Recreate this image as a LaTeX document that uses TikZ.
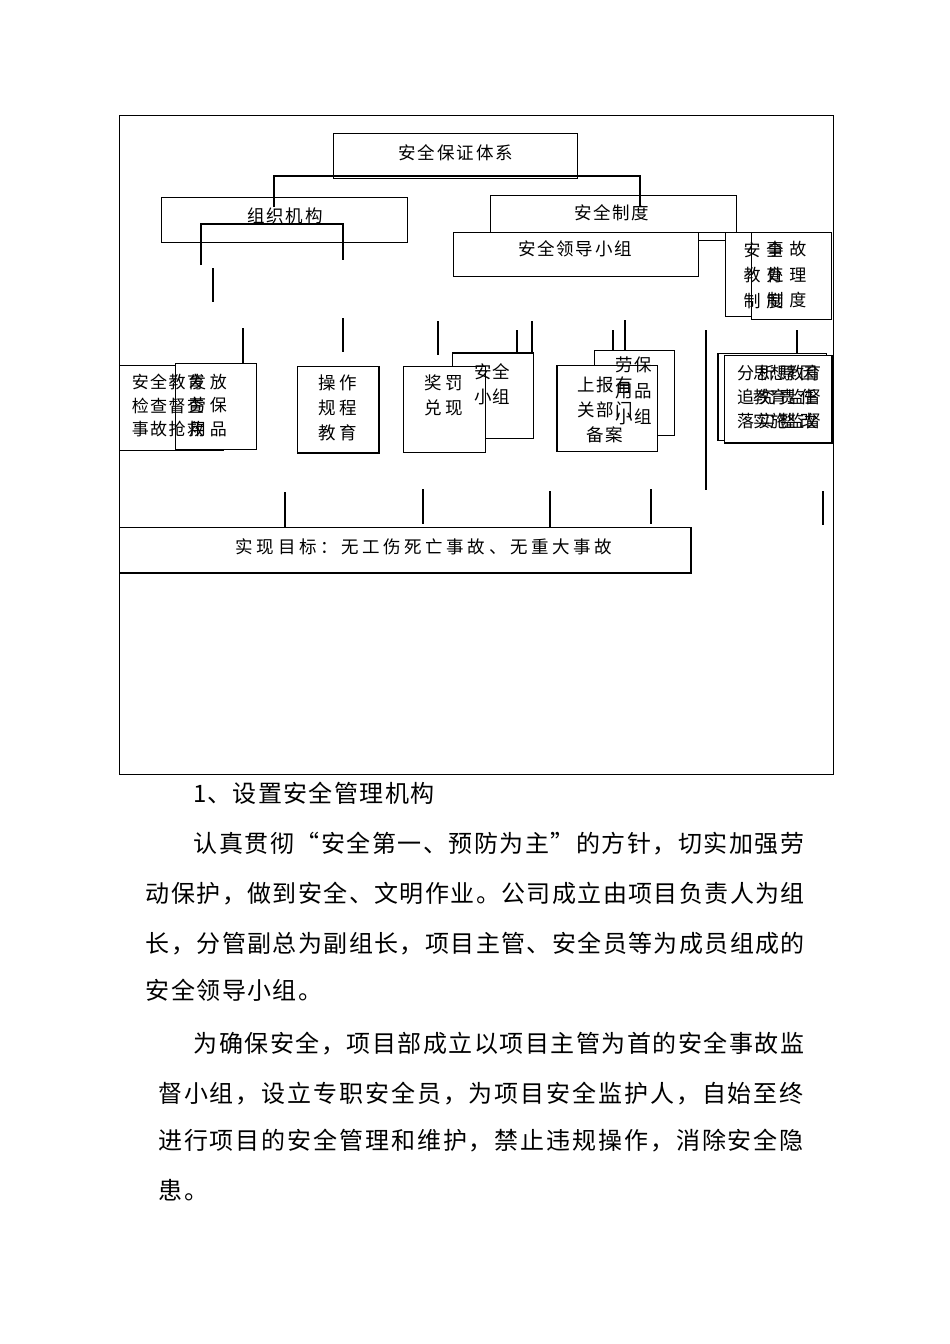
\documentclass[tikz,border=0pt]{standalone}
\usepackage{fontspec}
\newfontfamily\cjk{Noto Sans CJK SC}
\makeatletter
\newcommand\spc[2]{\@tfor\ch:=#2\do{\makebox[#1]{\ch}}}
\makeatother
\tikzset{
  box/.style={draw, line width=1pt, fill=white, inner sep=0pt, anchor=north west},
  lbl/.style={font=\cjk\fontsize{17.5}{25}\selectfont, align=center, inner sep=0pt},
  body/.style={font=\cjk\fontsize{24}{24}\selectfont, anchor=base west, inner sep=0pt},
  stub/.style={line width=1.3pt},
  thick edge/.style={line width=2.2pt},
}
\newcommand\bx[5]{\node[box, minimum width=#4-#2, minimum height=#5-#3] (#1) at (#2,#3) {};}
\begin{document}
\begin{tikzpicture}[x=1pt,y=-1pt]
\useasboundingbox[fill=white] (0,0) rectangle (950,1344);
% outer frame
\draw[line width=1pt] (119,115) rectangle (833,774);
% top level
\bx{title}{333}{133}{577}{178}
\node[lbl] (t-title) at (456,153) {\spc{19.5pt}{安全保证体系}};
\bx{org}{161}{197}{407}{242}
\node[lbl] (t-org) at (285,216) {\spc{19.3pt}{组织机构}};
\bx{sys}{490}{195}{736}{232}
\node[lbl] (t-sys) at (612,213) {\spc{19pt}{安全制度}};
\bx{lead}{453}{232}{698}{276}
\node[lbl] (t-lead) at (575,249) {\spc{19.3pt}{安全领导小组}};
\bx{d1}{725}{232}{810}{316}
\bx{d2}{751}{232}{831}{319}
\node[lbl,font=\cjk\fontsize{17}{25.5}\selectfont] (t-d1) at (763.5,275) {\spc{23pt}{安全}\\\spc{23pt}{教育}\\\spc{23pt}{制度}};
\node[lbl,font=\cjk\fontsize{17}{25.5}\selectfont] (t-d2) at (786.5,275) {\spc{23pt}{事故}\\\spc{23pt}{处理}\\\spc{23pt}{制度}};
% connectors top
\coordinate (c-l) at (274,207);
\coordinate (c-r) at (640,207);
\draw[stub] (c-l) -- (274,176) -- (640,176) -- (c-r);
\coordinate (o-l) at (201,265);
\coordinate (o-r) at (343,260);
\draw[stub] (o-l) -- (201,224) -- (343,224) -- (o-r);
\draw[line width=1pt] (lead.east |- 0,240) -- (d1.west |- 0,240);
% stubs between rows
\foreach \n/\x/\ya/\yb in {s1/213/268/302, s2/243/328/363, s3/343/318/352, s4/438/321/355,
  s5/517/330/363, s6/532/321/353, s7/613/330/366, s8/625/320/350, s9/706/330/490, s10/797/330/353}{
  \coordinate (\n-a) at (\x,\ya);
  \coordinate (\n-b) at (\x,\yb);
  \draw[stub] (\n-a) -- (\n-b);
}
% second row boxes
\bx{a}{119}{365}{223}{450}
\bx{b}{175}{363}{256}{449}
\node[lbl,font=\cjk\fontsize{17}{23.5}\selectfont] (t-a) at (168,405.5) {\spc{18.5pt}{安全教育}\\\spc{18.5pt}{检查督查}\\\spc{18.5pt}{事故抢救}};
\node[lbl,font=\cjk\fontsize{17}{23.5}\selectfont] (t-b) at (208,405.5) {\spc{21pt}{发放}\\\spc{21pt}{劳保}\\\spc{21pt}{用品}};
\bx{op}{297}{366}{378}{452}
\draw[thick edge] (op.north east) -- (op.south east) -- (op.south west);
\node[lbl] (t-op) at (338,408) {\spc{21pt}{操作}\\\spc{21pt}{规程}\\\spc{21pt}{教育}};
\bx{grp}{452}{353}{533}{438}
\draw[thick edge] (grp.north west) -- (grp.north east);
\bx{rew}{403}{366}{485}{452}
\node[lbl] (t-rew) at (444,395.5) {\spc{21pt}{奖罚}\\\spc{21pt}{兑现}};
\node[lbl] (t-grp) at (492,384.5) {\spc{18pt}{安全}\\\spc{18pt}{小组}};
\bx{lab}{594}{350}{674}{435}
\bx{rep}{557}{365}{657}{451}
\draw[thick edge] (rep.north west) -- (rep.south west);
\node[lbl] (t-rep) at (605,410) {\spc{19pt}{上报有}\\\spc{19pt}{关部门}\\\spc{19pt}{备案}};
\node[lbl,font=\cjk\fontsize{17.5}{26}\selectfont] (t-lab) at (634,391) {\spc{19pt}{劳保}\\\spc{19pt}{用品}\\\spc{19pt}{小组}};
\bx{c1}{718}{353}{826}{440}
\bx{c2}{724}{355}{831}{442}
\draw[thick edge] (c1.north west) -- (c1.south west);
\draw[thick edge] (c2.north east) -- (c2.south east) -- (c2.south west);
\node[lbl,font=\cjk\fontsize{17}{24}\selectfont] (t-c1) at (777,397) {\spc{21pt}{分析原因}\\\spc{21pt}{追究责任}\\\spc{21pt}{落实整改}};
\node[lbl,font=\cjk\fontsize{17}{24}\selectfont] (t-c2) at (787,397) {\spc{17pt}{思想教育}\\\spc{17pt}{教育监督}\\\spc{17pt}{实施监督}};
% bottom stubs
\foreach \n/\x/\ya/\yb in {u1/285/492/527, u2/423/489/524, u3/550/491/527, u4/651/489/524, u5/823/491/525}{
  \coordinate (\n-a) at (\x,\ya);
  \coordinate (\n-b) at (\x,\yb);
  \draw[stub] (\n-a) -- (\n-b);
}
% target
\bx{tgt}{119}{527}{690}{572}
\draw[thick edge] (tgt.north east) -- (tgt.south east) -- (tgt.south west);
\node[lbl] (t-tgt) at (424,547) {\spc{21.1pt}{实现目标：无工伤死亡事故、无重大事故}};
% body text
\node[body] (p1) at (193,802) {1\spc{25.4pt}{、设置安全管理机构}};
\node[body] (p2) at (193,852) {\spc{25.5pt}{认真贯彻“安全第一、预防为主”的方针，切实加强劳}};
\node[body] (p3) at (145,902) {\spc{25.4pt}{动保护，做到安全、文明作业。公司成立由项目负责人为组}};
\node[body] (p4) at (145,952) {\spc{25.4pt}{长，分管副总为副组长，项目主管、安全员等为成员组成的}};
\node[body] (p5) at (145,999) {\spc{25.4pt}{安全领导小组。}};
\node[body] (p6) at (193,1052) {\spc{25.5pt}{为确保安全，项目部成立以项目主管为首的安全事故监}};
\node[body] (p7) at (157,1102) {\spc{25.9pt}{督小组，设立专职安全员，为项目安全监护人，自始至终}};
\node[body] (p8) at (157,1149) {\spc{25.9pt}{进行项目的安全管理和维护，禁止违规操作，消除安全隐}};
\node[body] (p9) at (157,1199) {\spc{25.9pt}{患。}};
\end{tikzpicture}
\end{document}
